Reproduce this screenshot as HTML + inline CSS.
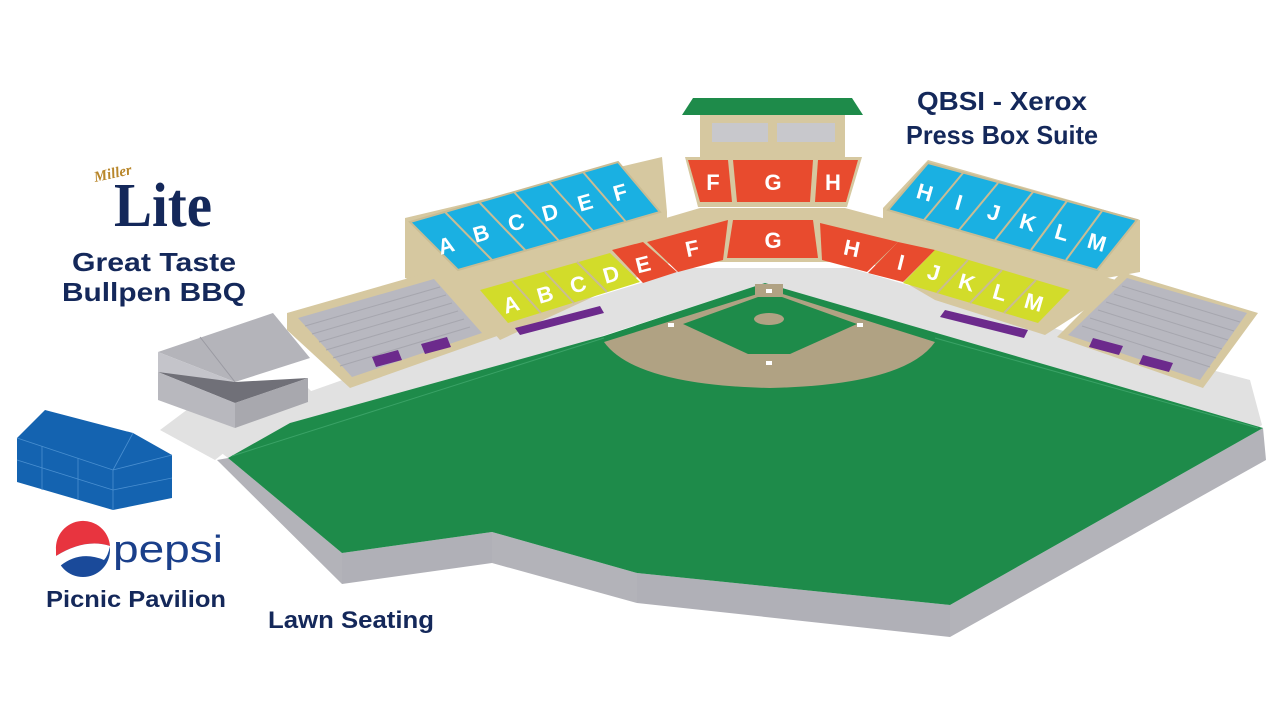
<!DOCTYPE html>
<html><head><meta charset="utf-8"><style>
html,body{margin:0;padding:0;background:#fff;}
svg{display:block;}
.t{font-family:"Liberation Sans",sans-serif;font-weight:bold;fill:#14285a;}
.s{font-family:"Liberation Sans",sans-serif;font-weight:bold;fill:#fff;font-size:22px;text-anchor:middle;}
</style></head><body>
<svg width="1284" height="722" viewBox="0 0 1284 722" xmlns="http://www.w3.org/2000/svg">
<rect width="1284" height="722" fill="#fff"/>
<!-- concourse -->
<polygon points="205,440 300,395 470,335 690,268 850,268 1060,330 1250,380 1262,425 1258,428 765,283 228,458" fill="#e1e1e1"/>
<polygon points="160,430 200,400 300,380 320,400 240,440 215,460" fill="#e1e1e1"/>
<!-- field sides -->
<polygon points="217,460 228,458 342,553 342,584" fill="#b3b3b9"/>
<polygon points="342,553 492,532 492,563 342,584" fill="#b0b0b7"/>
<polygon points="492,532 637,573 637,603 492,563" fill="#b3b3b9"/>
<polygon points="637,573 950,605 950,637 637,603" fill="#b0b0b7"/>
<polygon points="950,605 1263,428 1266,460 950,637" fill="#b3b3b9"/>
<!-- grass -->
<polygon points="228,458 290,423 604,336 765,283 1263,428 950,605 637,573 492,532 342,553" fill="#1e8b4a"/>
<line x1="232" y1="456" x2="604" y2="338" stroke="#3aa266" stroke-width="1"/>
<line x1="935" y1="338" x2="1258" y2="428" stroke="#3aa266" stroke-width="1"/>
<!-- infield -->
<path d="M604,342 L770,290 L935,342 Q905,385 770,388 Q635,385 604,342 Z" fill="#b0a283"/>
<polygon points="683,324 758,297 782,297 857,324 790,354 748,354" fill="#1e8b4a"/>
<rect x="755" y="284" width="28" height="12" fill="#b0a283"/>
<ellipse cx="769" cy="319" rx="15" ry="6" fill="#b0a283"/>
<g fill="#fff"><rect x="766" y="289" width="6" height="4"/><rect x="857" y="323" width="6" height="4"/><rect x="766" y="361" width="6" height="4"/><rect x="668" y="323" width="6" height="4"/></g>
<!-- walkway behind lower bowl -->
<polygon points="460,285 700,212 845,212 1120,285 1120,295 845,225 700,225 460,295" fill="#b8b8c0"/>
<!-- left upper deck -->
<polygon points="405,218 662,157 667,212 667,240 460,292 405,278" fill="#d6c8a0"/>
<polygon points="410,222 618,162 660,212 458,270" fill="#1ab0e2" stroke="#c9bc94" stroke-width="2"/>
<g stroke="#c9bc94" stroke-width="2">
<line x1="445" y1="212" x2="492" y2="260"/><line x1="479" y1="202" x2="526" y2="251"/><line x1="514" y1="192" x2="559" y2="241"/><line x1="549" y1="182" x2="593" y2="231"/><line x1="583" y1="172" x2="626" y2="222"/>
</g>
<text class="s" x="446" y="253" transform="rotate(-16 446 245)">A</text>
<text class="s" x="481" y="241" transform="rotate(-16 481 233)">B</text>
<text class="s" x="516" y="230" transform="rotate(-16 516 222)">C</text>
<text class="s" x="550" y="220" transform="rotate(-16 550 212)">D</text>
<text class="s" x="585" y="210" transform="rotate(-16 585 202)">E</text>
<text class="s" x="620" y="200" transform="rotate(-16 620 192)">F</text>
<!-- right upper deck -->
<polygon points="883,208 928,160 1140,220 1140,272 1095,280 1090,290 883,235" fill="#d6c8a0"/>
<polygon points="888,210 928,163 1137,220 1097,270" fill="#1ab0e2" stroke="#c9bc94" stroke-width="2"/>
<g stroke="#c9bc94" stroke-width="2">
<line x1="963" y1="173" x2="924" y2="220"/><line x1="998" y1="183" x2="959" y2="230"/><line x1="1033" y1="192" x2="995" y2="240"/><line x1="1067" y1="201" x2="1031" y2="250"/><line x1="1102" y1="211" x2="1066" y2="260"/>
</g>
<text class="s" x="925" y="200" transform="rotate(16 925 192)">H</text>
<text class="s" x="959" y="210" transform="rotate(16 959 202)">I</text>
<text class="s" x="994" y="220" transform="rotate(16 994 212)">J</text>
<text class="s" x="1028" y="230" transform="rotate(16 1028 222)">K</text>
<text class="s" x="1062" y="240" transform="rotate(16 1062 232)">L</text>
<text class="s" x="1097" y="250" transform="rotate(16 1097 242)">M</text>
<!-- press box -->
<polygon points="693,98 852,98 863,115 682,115" fill="#1e8b4a"/>
<rect x="700" y="115" width="145" height="45" fill="#d6c8a0"/>
<rect x="712" y="123" width="56" height="19" fill="#c8c8cc"/>
<rect x="777" y="123" width="58" height="19" fill="#c8c8cc"/>
<polygon points="685,157 862,157 847,207 698,207" fill="#d6c8a0"/>
<polygon points="688,160 728,160 732,202 700,202" fill="#e84b2e"/>
<polygon points="733,160 813,160 810,202 737,202" fill="#e84b2e"/>
<polygon points="818,160 858,160 846,202 815,202" fill="#e84b2e"/>
<text class="s" x="713" y="190">F</text><text class="s" x="773" y="190">G</text><text class="s" x="833" y="190">H</text>
<!-- lower bowl tan base -->
<polygon points="455,280 700,208 845,208 1135,285 1100,300 1045,335 935,300 870,262 672,262 608,290 500,340 470,305" fill="#d6c8a0"/>
<!-- lower red left -->
<polygon points="733,220 813,220 818,258 727,258" fill="#e84b2e"/>
<polygon points="647,242 728,220 723,260 678,272" fill="#e84b2e"/>
<polygon points="612,250 643,242 677,272 643,283" fill="#e84b2e"/>
<text class="s" x="773" y="248">G</text>
<text class="s" x="692" y="256" transform="rotate(-12 692 248)">F</text>
<text class="s" x="643" y="272" transform="rotate(-14 643 264)">E</text>
<!-- yellow left -->
<polygon points="480,290 610,253 640,282 508,323" fill="#d2dc2a"/>
<g stroke="#c9bc94" stroke-width="2">
<line x1="512" y1="281" x2="541" y2="313"/><line x1="545" y1="272" x2="574" y2="303"/><line x1="577" y1="262" x2="607" y2="292"/>
</g>
<text class="s" x="511" y="312" transform="rotate(-16 511 304)">A</text>
<text class="s" x="545" y="302" transform="rotate(-16 545 294)">B</text>
<text class="s" x="578" y="292" transform="rotate(-16 578 284)">C</text>
<text class="s" x="611" y="282" transform="rotate(-16 611 274)">D</text>
<polygon points="515,328 600,306 604,313 520,335" fill="#6c2a8c"/>
<!-- right lower red -->
<polygon points="820,223 898,242 867,272 822,260" fill="#e84b2e"/>
<polygon points="898,242 935,250 903,282 868,273" fill="#e84b2e"/>
<text class="s" x="852" y="256" transform="rotate(12 852 248)">H</text>
<text class="s" x="901" y="270" transform="rotate(14 901 262)">I</text>
<!-- right yellow -->
<polygon points="935,250 1070,290 1038,323 903,283" fill="#d2dc2a"/>
<g stroke="#c9bc94" stroke-width="2">
<line x1="968" y1="260" x2="937" y2="293"/><line x1="1002" y1="270" x2="970" y2="303"/><line x1="1036" y1="280" x2="1004" y2="313"/>
</g>
<text class="s" x="934" y="280" transform="rotate(16 934 272)">J</text>
<text class="s" x="967" y="290" transform="rotate(16 967 282)">K</text>
<text class="s" x="1000" y="300" transform="rotate(16 1000 292)">L</text>
<text class="s" x="1034" y="310" transform="rotate(16 1034 302)">M</text>
<polygon points="945,310 1028,330 1024,338 940,317" fill="#6c2a8c"/>
<!-- left bleacher -->
<polygon points="287,313 437,270 455,280 500,335 350,388 287,330" fill="#d6c8a0"/>
<polygon points="298,318 434,279 482,333 352,377" fill="#b8b8c0"/>
<g stroke="#a6a6ae" stroke-width="1">
<line x1="305" y1="326" x2="440" y2="287"/><line x1="312" y1="334" x2="446" y2="295"/><line x1="319" y1="342" x2="452" y2="303"/><line x1="326" y1="350" x2="458" y2="311"/><line x1="333" y1="358" x2="464" y2="319"/><line x1="340" y1="366" x2="470" y2="327"/>
</g>
<polygon points="372,357 398,350 402,360 376,367" fill="#6c2a8c"/>
<polygon points="421,344 447,337 451,347 425,354" fill="#6c2a8c"/>
<!-- right bleacher -->
<polygon points="1057,337 1122,272 1258,313 1203,388" fill="#d6c8a0"/>
<polygon points="1068,335 1127,278 1247,313 1200,380" fill="#b8b8c0"/>
<g stroke="#a6a6ae" stroke-width="1">
<line x1="1122" y1="286" x2="1240" y2="322"/><line x1="1114" y1="294" x2="1234" y2="331"/><line x1="1106" y1="302" x2="1228" y2="340"/><line x1="1098" y1="310" x2="1222" y2="349"/><line x1="1090" y1="318" x2="1216" y2="358"/><line x1="1082" y1="326" x2="1210" y2="367"/>
</g>
<polygon points="1093,338 1123,346 1119,355 1089,347" fill="#6c2a8c"/>
<polygon points="1143,355 1173,363 1169,372 1139,364" fill="#6c2a8c"/>
<!-- bullpen building -->
<polygon points="158,352 273,313 310,358 235,382" fill="#b4b4ba"/>
<line x1="200" y1="337" x2="235" y2="382" stroke="#9a9aa2"/>
<polygon points="158,372 235,403 308,378 235,382 158,360" fill="#707078"/>
<polygon points="158,372 235,403 235,428 158,400" fill="#b8b8be"/>
<polygon points="235,403 308,378 308,402 235,428" fill="#a8a8ae"/>
<polygon points="158,352 158,372 235,382" fill="#c4c4ca"/>
<!-- blue pavilion -->
<polygon points="17,438 45,410 133,433 172,455 172,498 113,510 17,482" fill="#1463b0"/>
<g stroke="#4a8fd0" stroke-width="0.8" fill="none">
<polyline points="17,438 113,470 172,455"/><line x1="113" y1="470" x2="113" y2="510"/><line x1="133" y1="433" x2="113" y2="470"/>
<line x1="17" y1="460" x2="113" y2="490"/><line x1="113" y1="490" x2="172" y2="478"/>
<line x1="42" y1="446" x2="42" y2="490"/><line x1="78" y1="458" x2="78" y2="500"/>
</g>
<!-- Pepsi logo -->
<circle cx="83" cy="550" r="27" fill="#1a4a9a"/>
<path d="M56,550 A27,27 0 0 1 110,546 Q85,538 56,556 Z" fill="#e8343f"/>
<path d="M56,556 Q85,538 110,546 Q108,556 104,560 Q80,550 60,566 Q57,561 56,556 Z" fill="#fff"/>
<text x="113" y="562" style="font-family:'Liberation Sans',sans-serif;font-size:38px;fill:#1a3f8a" textLength="110" lengthAdjust="spacingAndGlyphs">pepsi</text>
<!-- Miller Lite -->
<text x="95" y="182" style="font-family:'Liberation Serif',serif;font-style:italic;font-weight:bold;font-size:15px;fill:#b8862a" transform="rotate(-12 95 182)">Miller</text>
<text x="114" y="226" style="font-family:'Liberation Serif',serif;font-weight:bold;font-size:62px;fill:#14285a" textLength="98" lengthAdjust="spacingAndGlyphs">Lite</text>
<!-- labels -->
<text class="t" x="154" y="271" font-size="26" text-anchor="middle" textLength="164" lengthAdjust="spacingAndGlyphs">Great Taste</text>
<text class="t" x="154" y="301" font-size="26" text-anchor="middle" textLength="184" lengthAdjust="spacingAndGlyphs">Bullpen BBQ</text>
<text class="t" x="136" y="607" font-size="23" text-anchor="middle" textLength="180" lengthAdjust="spacingAndGlyphs">Picnic Pavilion</text>
<text class="t" x="268" y="628" font-size="24" textLength="166" lengthAdjust="spacingAndGlyphs">Lawn Seating</text>
<text class="t" x="1002" y="110" font-size="26" text-anchor="middle" textLength="170" lengthAdjust="spacingAndGlyphs">QBSI - Xerox</text>
<text class="t" x="1002" y="144" font-size="26" text-anchor="middle" textLength="192" lengthAdjust="spacingAndGlyphs">Press Box Suite</text>
</svg>
</body></html>
